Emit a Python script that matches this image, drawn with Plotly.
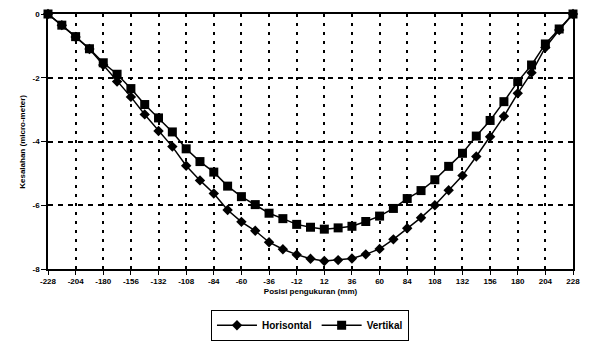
import plotly.graph_objects as go

posisi = [-228, -216, -204, -192, -180, -168, -156, -144, -132, -120, -108, -96, -84, -72,
          -60, -48, -36, -24, -12, 0, 12, 24, 36, 48, 60, 72, 84, 96, 108, 120, 132, 144,
          156, 168, 180, 192, 204, 216, 228]

horisontal = [0, -0.35, -0.72, -1.10, -1.60, -2.12, -2.60, -3.15, -3.67, -4.16, -4.76, -5.22,
              -5.63, -6.15, -6.52, -6.80, -7.16, -7.38, -7.55, -7.68, -7.75, -7.72, -7.67,
              -7.54, -7.37, -7.07, -6.72, -6.39, -6.00, -5.53, -5.07, -4.47, -3.85, -3.21,
              -2.49, -1.84, -1.05, -0.50, 0]

vertikal = [0, -0.35, -0.71, -1.09, -1.53, -1.89, -2.34, -2.84, -3.26, -3.70, -4.23, -4.63,
            -4.96, -5.40, -5.73, -5.98, -6.25, -6.42, -6.60, -6.69, -6.75, -6.71, -6.66,
            -6.51, -6.34, -6.10, -5.79, -5.54, -5.20, -4.78, -4.37, -3.83, -3.34, -2.75,
            -2.12, -1.60, -0.94, -0.47, 0]

x_ticks = [-228, -204, -180, -156, -132, -108, -84, -60, -36, -12, 12, 36, 60, 84, 108,
           132, 156, 180, 204, 228]
y_ticks = [0, -2, -4, -6, -8]
y_title = "Kesalahan (micro-meter)"

FONT = "Liberation Sans"

fig = go.Figure()
fig.add_trace(go.Scatter(
    x=posisi, y=horisontal, name="Horisontal", mode="lines+markers",
    line=dict(color="black", width=1.5),
    marker=dict(symbol="diamond", size=8, color="black"),
    cliponaxis=False,
))
fig.add_trace(go.Scatter(
    x=posisi, y=vertikal, name="Vertikal", mode="lines+markers",
    line=dict(color="black", width=1.5),
    marker=dict(symbol="square", size=9, color="black"),
    cliponaxis=False,
))

fig.update_layout(
    width=590, height=354,
    margin=dict(l=48, r=11, t=10, b=85),
    paper_bgcolor="white", plot_bgcolor="white",
    font=dict(family=FONT, size=8, color="black", weight="bold"),
    showlegend=True,
    legend=dict(
        orientation="h", x=0.499, xanchor="center", y=-0.16, yanchor="top",
        bordercolor="black", borderwidth=1, bgcolor="white",
        font=dict(family=FONT, size=10, color="black", weight="bold"),
        itemwidth=40, tracegroupgap=0,
    ),
    xaxis=dict(
        range=[-228, 228], tickvals=x_ticks, ticktext=[str(v) for v in x_ticks],
        showgrid=True, gridcolor="black", gridwidth=1.5, griddash="3px,6px",
        showline=True, linecolor="black", linewidth=1.5, mirror=True,
        ticks="outside", ticklen=4, tickcolor="black", tickwidth=1,
        zeroline=False,
        tickfont=dict(family=FONT, size=8, color="black", weight="bold"),
        title=dict(text="Posisi pengukuran (mm)", standoff=3,
                   font=dict(family=FONT, size=8, color="black", weight="bold")),
    ),
    yaxis=dict(
        range=[-8, 0], tickvals=y_ticks, ticktext=[str(v) for v in y_ticks],
        showgrid=True, gridcolor="black", gridwidth=1.5, griddash="5px,5px",
        showline=True, linecolor="black", linewidth=1.5, mirror=True,
        ticks="outside", ticklen=5, tickcolor="black", tickwidth=1,
        zeroline=False,
        tickfont=dict(family=FONT, size=8, color="black", weight="bold"),
    ),
    annotations=[dict(
        text=y_title, textangle=-90, xref="paper", yref="paper",
        x=-0.049, y=0.5, xanchor="center", yanchor="middle", showarrow=False,
        font=dict(family=FONT, size=8, color="black", weight="bold"),
    )],
)

fig.write_html("out.html")
